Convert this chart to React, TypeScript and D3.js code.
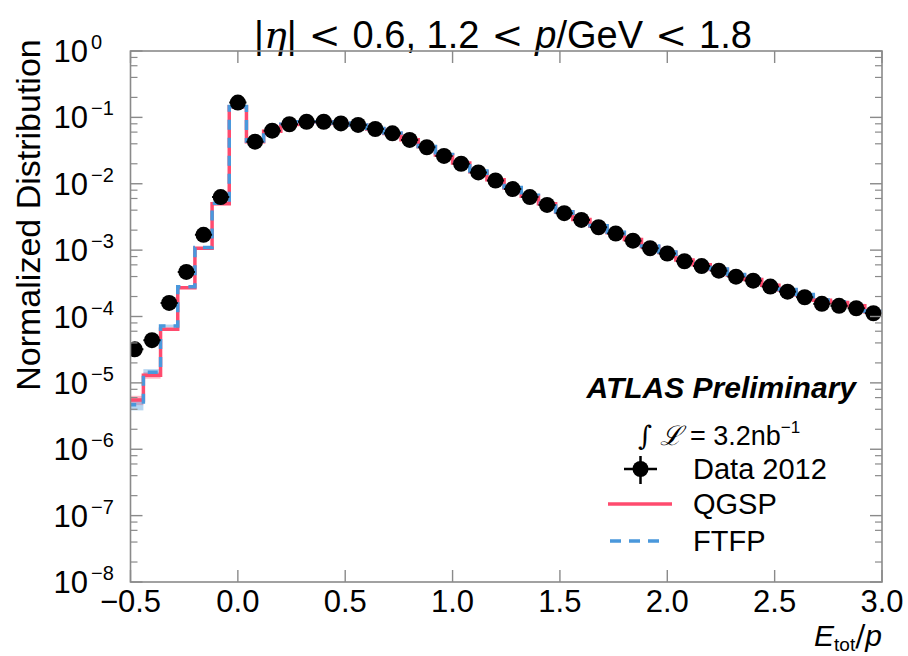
import React from 'react';
import * as d3 from 'd3';

// Bin centres (E_tot/p) and bin width
const binCenters = [
  -0.48, -0.40, -0.32, -0.24, -0.16, -0.08, 0.00, 0.08, 0.16, 0.24, 0.32,
  0.40, 0.48, 0.56, 0.64, 0.72, 0.80, 0.88, 0.96, 1.04, 1.12, 1.20,
  1.28, 1.36, 1.44, 1.52, 1.60, 1.68, 1.76, 1.84, 1.92, 2.00, 2.08,
  2.16, 2.24, 2.32, 2.40, 2.48, 2.56, 2.64, 2.72, 2.80, 2.88, 2.96,
];
const binWidth = 0.08;

const dataVals = [
  3.2e-5, 4.4e-5, 1.6e-4, 4.7e-4, 1.7e-3, 6.3e-3, 0.167, 0.043, 0.063, 0.0787, 0.086,
  0.086, 0.081, 0.077, 0.0668, 0.0575, 0.0457, 0.0355, 0.0263, 0.020, 0.0148, 0.0112,
  0.0083, 0.0063, 0.0048, 0.0036, 0.00285, 0.00221, 0.00178, 0.00139, 0.00107, 0.00089, 0.00068,
  0.000575, 0.00049, 0.000398, 0.000347, 0.000282, 0.000237, 0.000195, 0.000155, 0.000145, 0.000133, 0.000112,
];

const qgspVals = [
  5.5e-6, 1.3e-5, 6.4e-5, 2.7e-4, 1.07e-3, 5.0e-3, 0.145, 0.043, 0.062, 0.078, 0.085,
  0.086, 0.081, 0.076, 0.067, 0.057, 0.046, 0.036, 0.027, 0.0205, 0.0152, 0.0115,
  0.0086, 0.0065, 0.0050, 0.00375, 0.0029, 0.00228, 0.00183, 0.00145, 0.00112, 0.00092, 0.00071,
  0.00060, 0.00051, 0.00042, 0.00036, 0.000295, 0.00025, 0.00021, 0.000175, 0.000163, 0.000145, 0.000118,
];

const ftfpVals = [
  4.7e-6, 1.45e-5, 7.2e-5, 2.8e-4, 1.1e-3, 5.1e-3, 0.146, 0.044, 0.063, 0.079, 0.086,
  0.086, 0.082, 0.077, 0.068, 0.058, 0.047, 0.0365, 0.0275, 0.021, 0.0155, 0.0117,
  0.0088, 0.0067, 0.0051, 0.0038, 0.00295, 0.00232, 0.00186, 0.00148, 0.00115, 0.00094, 0.00073,
  0.00062, 0.00052, 0.00043, 0.00037, 0.0003, 0.000255, 0.000215, 0.000178, 0.000166, 0.000148, 0.00012,
];

const qgspRelErr = [
  0.16, 0.11, 0.05, 0.025, 0.012, 0.006, 0.002, 0.004, 0.003, 0.003, 0.003,
  0.003, 0.003, 0.003, 0.003, 0.003, 0.003, 0.004, 0.004, 0.005, 0.005, 0.006,
  0.007, 0.008, 0.009, 0.01, 0.012, 0.013, 0.015, 0.017, 0.019, 0.021, 0.024,
  0.026, 0.028, 0.031, 0.034, 0.037, 0.04, 0.044, 0.048, 0.05, 0.053, 0.058,
];
const ftfpRelErr = [
  0.18, 0.11, 0.05, 0.025, 0.012, 0.006, 0.002, 0.004, 0.003, 0.003, 0.003,
  0.003, 0.003, 0.003, 0.003, 0.003, 0.003, 0.004, 0.004, 0.005, 0.005, 0.006,
  0.007, 0.008, 0.009, 0.01, 0.012, 0.013, 0.015, 0.017, 0.019, 0.021, 0.024,
  0.026, 0.028, 0.031, 0.034, 0.037, 0.04, 0.044, 0.048, 0.05, 0.053, 0.058,
];

const xTicks = [-0.5, 0.0, 0.5, 1.0, 1.5, 2.0, 2.5, 3.0];
const xTickLabels = ['\u22120.5', '0.0', '0.5', '1.0', '1.5', '2.0', '2.5', '3.0'];
const yMajorExps = [0, -1, -2, -3, -4, -5, -6, -7, -8];
const yExpLabels = ['0', '\u22121', '\u22122', '\u22123', '\u22124', '\u22125', '\u22126', '\u22127', '\u22128'];
const yMinorMults = [2, 4, 6, 8];

const W = 908;
const H = 656;
const L = 130.5;
const R = 882;
const T = 51;
const B = 582;

const RED = '#ff4b6e';
const BLUE = '#4a98dc';
const AXIS = '#8a8a8a';
const FONT = '"Liberation Sans", Arial, Helvetica, sans-serif';
const SERIF = '"DejaVu Serif", serif';

export default function App() {
  const x = d3.scaleLinear().domain([-0.5, 3.0]).range([L, R]);
  const y = d3.scaleLog().domain([1e-8, 1]).range([B, T]);

  const stepLine = d3
    .line<[number, number]>()
    .x((d) => x(d[0]))
    .y((d) => y(d[1]));

  const stepPoints = (vals: number[]) =>
    binCenters.flatMap((c, i) => [
      [c - binWidth / 2, vals[i]] as [number, number],
      [c + binWidth / 2, vals[i]] as [number, number],
    ]);

  const minorTicks: number[] = [];
  yMajorExps.forEach((e) => {
    if (e <= -1) yMinorMults.forEach((m) => minorTicks.push(m * Math.pow(10, e)));
  });

  const bands = (vals: number[], errs: number[], color: string) =>
    binCenters.map((c, i) => (
      <rect
        key={i}
        x={x(c - binWidth / 2)}
        width={x(c + binWidth / 2) - x(c - binWidth / 2)}
        y={y(vals[i] * (1 + errs[i]))}
        height={Math.max(0, y(vals[i] * (1 - errs[i])) - y(vals[i] * (1 + errs[i])))}
        fill={color}
        opacity={0.4}
      />
    ));

  return (
    <svg
      width={W}
      height={H}
      style={{ position: 'absolute', left: 0, top: 0, background: '#fff' }}
      fontFamily={FONT}
    >
      <rect x={0} y={0} width={W} height={H} fill="#fff" />
      <defs>
        <clipPath id="plotClip">
          <rect x={L} y={T} width={R - L} height={B - T} />
        </clipPath>
      </defs>

      {/* Title */}
      <text x={503} y={48} textAnchor="middle" fontSize={38} fill="#000">
        <tspan>|</tspan>
        <tspan fontFamily={SERIF} fontStyle="italic">η</tspan>
        <tspan>|</tspan>
        <tspan fontFamily={SERIF}> &lt; </tspan>
        <tspan>0.6, 1.2</tspan>
        <tspan fontFamily={SERIF}> &lt; </tspan>
        <tspan fontStyle="italic">p</tspan>
        <tspan>/GeV</tspan>
        <tspan fontFamily={SERIF}> &lt; </tspan>
        <tspan>1.8</tspan>
      </text>

      {/* plot contents */}
      <g clipPath="url(#plotClip)">
        {bands(qgspVals, qgspRelErr, RED)}
        {bands(ftfpVals, ftfpRelErr, BLUE)}
        <path d={stepLine(stepPoints(qgspVals)) || ''} fill="none" stroke={RED} strokeWidth={3.5} />
        <path
          d={stepLine(stepPoints(ftfpVals)) || ''}
          fill="none"
          stroke={BLUE}
          strokeWidth={3.5}
          strokeDasharray="10,8"
        />
        {binCenters.map((c, i) => (
          <g key={i}>
            <line
              x1={x(c - binWidth / 2)}
              x2={x(c + binWidth / 2)}
              y1={y(dataVals[i])}
              y2={y(dataVals[i])}
              stroke="#000"
              strokeWidth={2}
            />
            <circle cx={x(c)} cy={y(dataVals[i])} r={8} fill="#000" />
          </g>
        ))}
      </g>

      {/* frame */}
      <rect x={L} y={T} width={R - L} height={B - T} fill="none" stroke={AXIS} strokeWidth={1.6} />

      {/* x ticks */}
      {xTicks.map((t, i) => (
        <g key={i}>
          <line x1={x(t)} x2={x(t)} y1={B} y2={B - 12} stroke={AXIS} strokeWidth={1.4} />
          <line x1={x(t)} x2={x(t)} y1={T} y2={T + 12} stroke={AXIS} strokeWidth={1.4} />
          <text x={x(t)} y={612} textAnchor="middle" fontSize={31} fill="#000">
            {xTickLabels[i]}
          </text>
        </g>
      ))}

      {/* y major ticks */}
      {yMajorExps.map((e, i) => {
        const yy = y(Math.pow(10, e));
        return (
          <g key={i}>
            <line x1={L} x2={L + 12} y1={yy} y2={yy} stroke={AXIS} strokeWidth={1.4} />
            <line x1={R} x2={R - 12} y1={yy} y2={yy} stroke={AXIS} strokeWidth={1.4} />
            <text x={88} y={yy + 11} textAnchor="end" fontSize={31} fill="#000">
              10
            </text>
            <text x={91} y={yy - 2} textAnchor="start" fontSize={20} fill="#000">
              {yExpLabels[i]}
            </text>
          </g>
        );
      })}
      {minorTicks.map((v, i) => (
        <g key={'m' + i}>
          <line x1={L} x2={L + 7} y1={y(v)} y2={y(v)} stroke={AXIS} strokeWidth={1.2} />
          <line x1={R} x2={R - 7} y1={y(v)} y2={y(v)} stroke={AXIS} strokeWidth={1.2} />
        </g>
      ))}

      {/* axis labels */}
      <text
        transform={`translate(40, 215) rotate(-90)`}
        textAnchor="middle"
        fontSize={34}
        fill="#000"
      >
        Normalized Distribution
      </text>
      <text x={882} y={646} textAnchor="end" fontSize={30} fill="#000">
        <tspan fontStyle="italic">E</tspan>
        <tspan fontSize={19} dy={5}>tot</tspan>
        <tspan dy={-5} fontFamily={SERIF}>/</tspan>
        <tspan fontStyle="italic">p</tspan>
      </text>

      {/* ATLAS label & legend */}
      <text x={856} y={398} textAnchor="end" fontSize={30} fontWeight="bold" fontStyle="italic" fill="#000">
        ATLAS Preliminary
      </text>
      <text x={719} y={445} textAnchor="middle" fontSize={27} fill="#000">
        <tspan fontFamily={SERIF} fontStyle="italic">∫ ℒ</tspan>
        <tspan> = 3.2nb</tspan>
        <tspan fontSize={17} dy={-12}>−1</tspan>
      </text>

      <line x1={624} x2={657} y1={469} y2={469} stroke="#000" strokeWidth={2.5} />
      <line x1={640.5} x2={640.5} y1={456} y2={484} stroke="#000" strokeWidth={2.5} />
      <circle cx={640.5} cy={469} r={8} fill="#000" />
      <text x={693} y={479} fontSize={29} fill="#000">
        Data 2012
      </text>

      <line x1={608} x2={672} y1={504} y2={504} stroke={RED} strokeWidth={3.5} />
      <text x={693} y={514} fontSize={29} fill="#000">
        QGSP
      </text>

      <line x1={610} x2={662} y1={541} y2={541} stroke={BLUE} strokeWidth={3.5} strokeDasharray="11,8" />
      <text x={693} y={551} fontSize={29} fill="#000">
        FTFP
      </text>
    </svg>
  );
}
